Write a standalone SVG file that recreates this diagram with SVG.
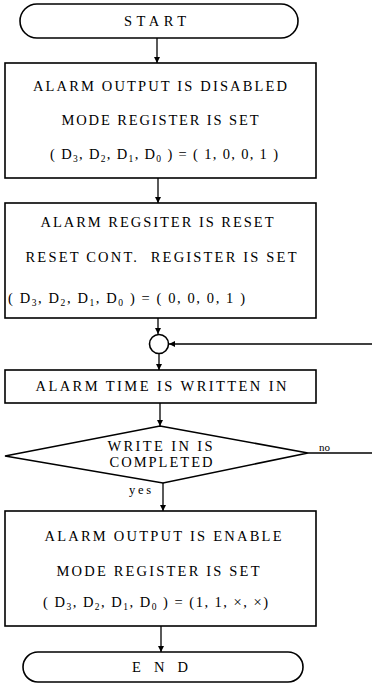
<svg xmlns="http://www.w3.org/2000/svg" width="372" height="683" viewBox="0 0 372 683">
<defs>
<marker id="ah" viewBox="0 0 10 10" refX="10" refY="5" markerWidth="6" markerHeight="7" orient="auto" markerUnits="userSpaceOnUse">
<path d="M0,0 L10,5 L0,10 z" fill="#000"/>
</marker>
<style>
.s{fill:#fff;stroke:#000;stroke-width:1.6}
.c{fill:none;stroke:#000;stroke-width:1.3}
text{font-family:"Liberation Serif","Times New Roman",serif;font-size:14.5px;fill:#000}
.m{text-anchor:middle}
.sub{font-size:9.5px}
</style>
</defs>
<rect width="372" height="683" fill="#fff"/>
<g id="connectors">
<line class="c" x1="157" y1="38" x2="157" y2="63" marker-end="url(#ah)"/>
<line class="c" x1="158" y1="178" x2="158" y2="203" marker-end="url(#ah)"/>
<line class="c" x1="158" y1="318" x2="158" y2="334" marker-end="url(#ah)"/>
<line class="c" x1="372" y1="344" x2="169" y2="344" marker-end="url(#ah)"/>
<line class="c" x1="159" y1="354" x2="159" y2="370" marker-end="url(#ah)"/>
<line class="c" x1="160" y1="403" x2="160" y2="426" marker-end="url(#ah)"/>
<line class="c" x1="308" y1="453" x2="372" y2="453"/>
<line class="c" x1="163" y1="483" x2="163" y2="511" marker-end="url(#ah)"/>
<line class="c" x1="161" y1="626" x2="161" y2="652" marker-end="url(#ah)"/>
<text x="319" y="451" style="font-size:11px">no</text>
<text x="129" y="494" style="font-size:12.5px" textLength="22" lengthAdjust="spacing">yes</text>
</g>
<g id="start">
<rect class="s" x="20" y="4" width="278" height="34" rx="17"/>
<text class="m" x="155" y="26" textLength="62" lengthAdjust="spacing">START</text>
</g>
<g id="box1">
<rect class="s" x="5" y="63" width="311" height="115"/>
<text class="m" x="160" y="91" textLength="254" lengthAdjust="spacing">ALARM OUTPUT IS DISABLED</text>
<text class="m" x="160" y="124.5" textLength="197" lengthAdjust="spacing">MODE REGISTER IS SET</text>
<text x="50" y="158.5" textLength="228" lengthAdjust="spacing">( D<tspan class="sub" dy="3">3</tspan><tspan dy="-3">, D</tspan><tspan class="sub" dy="3">2</tspan><tspan dy="-3">, D</tspan><tspan class="sub" dy="3">1</tspan><tspan dy="-3">, D</tspan><tspan class="sub" dy="3">0</tspan><tspan dy="-3"> ) = ( 1, 0, 0, 1 )</tspan></text>
</g>
<g id="box2">
<rect class="s" x="5" y="203" width="311" height="115"/>
<text class="m" x="157" y="227" textLength="233" lengthAdjust="spacing">ALARM REGSITER IS RESET</text>
<text class="m" x="161" y="262" textLength="271" lengthAdjust="spacing" xml:space="preserve">RESET CONT.  REGISTER IS SET</text>
<text x="8" y="302.5" textLength="237" lengthAdjust="spacing">( D<tspan class="sub" dy="3">3</tspan><tspan dy="-3">, D</tspan><tspan class="sub" dy="3">2</tspan><tspan dy="-3">, D</tspan><tspan class="sub" dy="3">1</tspan><tspan dy="-3">, D</tspan><tspan class="sub" dy="3">0</tspan><tspan dy="-3"> ) = ( 0, 0, 0, 1 )</tspan></text>
</g>
<g id="merge">
<circle class="s" cx="159" cy="344" r="9.5"/>
</g>
<g id="box3">
<rect class="s" x="5" y="370" width="311" height="33"/>
<text class="m" x="161" y="391" textLength="251" lengthAdjust="spacing">ALARM TIME IS WRITTEN IN</text>
</g>
<g id="decision">
<polygon class="s" points="160,426 308,453 163,483 5,456"/>
<text class="m" x="160" y="451" textLength="105" lengthAdjust="spacing">WRITE IN IS</text>
<text class="m" x="161" y="467" textLength="103" lengthAdjust="spacing">COMPLETED</text>
</g>
<g id="box4">
<rect class="s" x="5" y="511" width="311" height="115"/>
<text class="m" x="163" y="541" textLength="237" lengthAdjust="spacing">ALARM OUTPUT IS ENABLE</text>
<text class="m" x="158" y="576" textLength="203" lengthAdjust="spacing">MODE REGISTER IS SET</text>
<text x="43" y="607" textLength="225" lengthAdjust="spacing">( D<tspan class="sub" dy="3">3</tspan><tspan dy="-3">, D</tspan><tspan class="sub" dy="3">2</tspan><tspan dy="-3">, D</tspan><tspan class="sub" dy="3">1</tspan><tspan dy="-3">, D</tspan><tspan class="sub" dy="3">0</tspan><tspan dy="-3"> ) = (1, 1, ×, ×)</tspan></text>
</g>
<g id="end">
<rect class="s" x="23" y="652" width="280" height="30" rx="15"/>
<text class="m" x="160" y="671.5" textLength="56" lengthAdjust="spacing">E N D</text>
</g>
</svg>
